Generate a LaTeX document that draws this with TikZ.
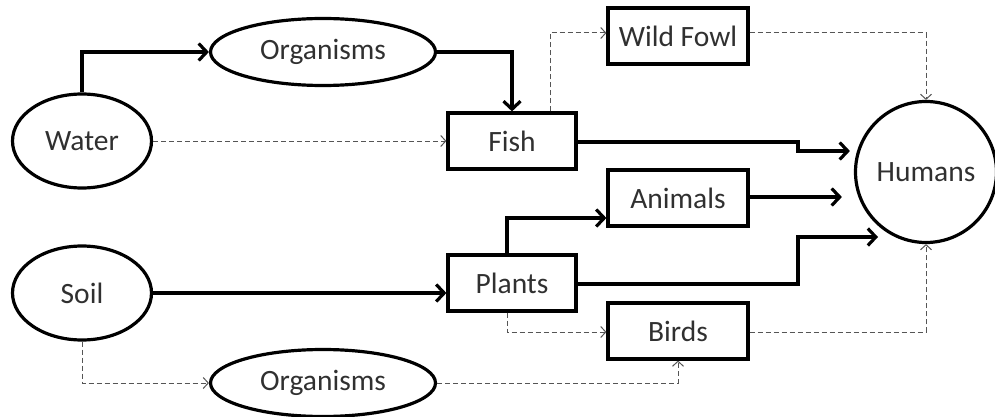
\documentclass[tikz,border=0pt]{standalone}
\usepackage{fontspec}
\setmainfont{Carlito}
\usetikzlibrary{arrows.meta,shapes.geometric}
\definecolor{txt}{HTML}{303030}
\definecolor{dgray}{HTML}{555555}
\tikzset{
  ell/.style={ellipse,draw=black,line width=3.2pt,text=txt,inner sep=0pt,minimum width=139pt,minimum height=94pt},
  ellw/.style={ell,minimum width=225pt,minimum height=67pt},
  bx/.style={rectangle,draw=black,line width=3.2pt,text=txt,inner sep=0pt,minimum width=128pt,minimum height=56pt},
  thk/.style={line width=3.2pt,-{Straight Barb[length=8pt,width=17pt,line width=3.2pt]}},
  dsh/.style={line width=1pt,dgray,dash pattern=on 5pt off 3pt,-{Straight Barb[length=5pt,width=11pt,line width=1pt]}},
}
\begin{document}
\begin{tikzpicture}[x=1pt,y=-1pt,font=\fontsize{29.5}{32}\selectfont]
\useasboundingbox (0,0) rectangle (995,417);
\node[ell] (water) at (82,141) {Water};
\node[ell] (soil) at (82,293) {Soil};
\node[ellw] (org1) at (323,52) {Organisms};
\node[ellw] (org2) at (323,383) {Organisms};
\node[bx] (fish) at (512,141) {Fish};
\node[bx] (plants) at (512,283) {Plants};
\node[bx,minimum width=140pt] (fowl) at (678,36) {Wild Fowl};
\node[bx,minimum width=140pt] (animals) at (678,198) {Animals};
\node[bx,minimum width=140pt] (birds) at (678,331) {Birds};
\node[circle,draw=black,line width=3.2pt,text=txt,inner sep=0pt,minimum size=141pt] (humans) at (926,172) {Humans};

\draw[thk] (water.north) |- (org1.west);
\draw[thk] (org1.east) -| (fish.north);
\draw[dsh] (water.east) -- (fish.west);
\draw[dsh] ([xshift=38pt]fish.north) |- ([yshift=3pt]fowl.west);
\draw[dsh] ([yshift=3pt]fowl.east) -| (humans.north);
\draw[thk] ([yshift=-1pt]fish.east) -- (798,142) -- (798,151) -- ([xshift=-4pt]humans.west |- 0,151);
\draw[thk] ([yshift=1pt]animals.east) -- ([xshift=-12pt,yshift=1pt]animals.east -| humans.west);
\draw[thk] ([xshift=-5pt]plants.north) |- ([yshift=-20pt]animals.west);
\draw[thk] ([yshift=-1pt]plants.east) -- (798,284) -- (798,237) -- (878,237);
\draw[dsh] ([xshift=-5pt]plants.south) |- ([yshift=-1pt]birds.west);
\draw[dsh] ([yshift=-1pt]birds.east) -| (humans.south);
\draw[thk] (soil.east) -- (soil.east -| plants.west);
\draw[dsh] (soil.south) |- (org2.west);
\draw[dsh] (org2.east) -| (birds.south);
\end{tikzpicture}
\end{document}
